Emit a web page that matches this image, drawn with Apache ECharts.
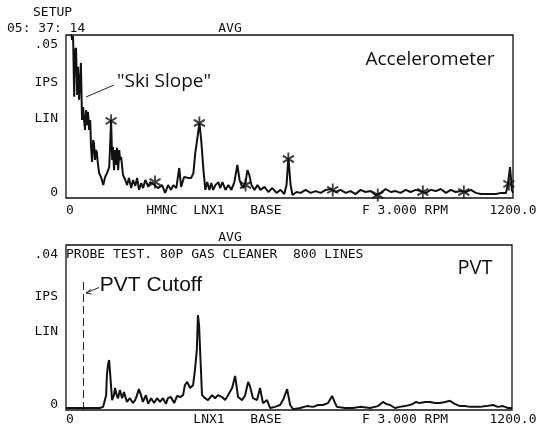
<!DOCTYPE html>
<html>
<head>
<meta charset="utf-8">
<script src="https://cdn.jsdelivr.net/npm/echarts@6/dist/echarts.min.js"></script>
<style>html,body{margin:0;padding:0;background:#fff;}#c{width:539px;height:427px;}</style>
</head>
<body>
<div id="c"></div>
<script>
// Accelerometer spectrum: [frequency (RPM scale 0-1200), amplitude IPS]
var accelSpectrum = [[3,0.058],[11,0.058],[16,0.0517],[19,0.053],[22,0.0327],[24,0.0483],[27,0.049],[30,0.0333],[32,0.0427],[35,0.0317],[38,0.0323],[40,0.044],[43,0.025],[46,0.0293],[48,0.0257],[51,0.0217],[54,0.0283],[56,0.0233],[59,0.0277],[62,0.0217],[65,0.025],[67,0.0167],[70,0.011],[73,0.0183],[75,0.0173],[78,0.0117],[81,0.015],[83,0.014],[86,0.01],[89,0.0073],[94,0.006],[100,0.0033],[105,0.006],[110,0.0073],[116,0.0093],[118,0.015],[121,0.025],[124,0.0117],[126,0.016],[129,0.0083],[132,0.015],[135,0.01],[137,0.0157],[140,0.0083],[143,0.015],[145,0.0117],[148,0.0127],[153,0.0067],[159,0.005],[164,0.0033],[169,0.0057],[175,0.0023],[180,0.005],[186,0.003],[191,0.0057],[196,0.0017],[202,0.004],[207,0.0023],[213,0.005],[221,0.0027],[226,0.0043],[234,0.0037],[239,0.0043],[247,0.0023],[258,0.0033],[266,0.0007],[274,0.0033],[282,0.0017],[288,0.0033],[296,0.0023],[304,0.009],[309,0.0027],[317,0.006],[328,0.0057],[336,0.0057],[342,0.0073],[347,0.014],[352,0.0183],[358,0.024],[363,0.0183],[369,0.0083],[374,0.0017],[379,0.0043],[385,0.0017],[390,0.004],[395,0.0017],[401,0.0033],[409,0.0043],[414,0.0023],[420,0.0043],[428,0.0017],[436,0.0033],[444,0.0017],[452,0.0043],[460,0.01],[466,0.005],[471,0.0033],[476,0.0023],[482,0.0043],[487,0.0083],[492,0.0067],[498,0.0033],[506,0.0017],[514,0.0033],[522,0.0017],[533,0.0027],[543,0.001],[554,0.0023],[565,0.0007],[576,0.0017],[586,0.0003],[592,0.0033],[597,0.0123],[603,0.0033],[608,0],[619,0.001],[630,0.0007],[643,0.0017],[657,0.0007],[670,0.0013],[684,0.0007],[697,0.0017],[710,0.002],[724,0.001],[737,0.0017],[751,0.0007],[764,0.0013],[777,0.0003],[791,0.0017],[804,0.001],[818,0.0013],[831,0],[845,0.0007],[858,0.002],[872,0.001],[885,0.0013],[898,0.0007],[912,0.0017],[925,0.001],[939,0.0017],[952,0.0013],[966,0.0007],[979,0.0017],[993,0.0013],[1006,0.002],[1020,0.0007],[1033,0.0017],[1046,0.001],[1060,0.0013],[1073,0.001],[1087,0.0017],[1100,0.0007],[1114,0.0003],[1127,0.0003],[1141,0.0003],[1154,0.0003],[1168,0.0007],[1181,0.0007],[1186,0.0033],[1192,0.0093],[1195,0.005],[1197,0.0017],[1200,0.0007]];

// Asterisk peak markers on accelerometer spectrum
var accelMarkers = [[121,0.0247],[239,0.0043],[358,0.024],[482,0.0033],[597,0.012],[716,0.0017],[837,0],[958,0.001],[1068,0.001],[1189,0.0037]];

// PVT (proximity probe) spectrum
var pvtSpectrum = [[0,0],[38,0],[91,0],[100,0.0003],[102,0],[108,0.0034],[110,0.0087],[113,0.0114],[116,0.0127],[118,0.0122],[121,0.0061],[124,0.0021],[129,0.0034],[132,0.0053],[137,0.0032],[140,0.0026],[145,0.0048],[151,0.0026],[156,0.0042],[164,0.0016],[172,0.0026],[180,0.0013],[186,0.0021],[191,0.0034],[196,0.005],[202,0.0034],[207,0.0016],[215,0.0034],[221,0.0011],[229,0.0026],[237,0.0013],[245,0.0026],[253,0.0016],[261,0.0026],[269,0.0011],[274,0.0026],[282,0.0029],[291,0.0013],[299,0.0032],[307,0.0029],[315,0.0034],[320,0.0061],[326,0.0069],[334,0.0053],[342,0.0061],[347,0.0101],[352,0.0154],[355,0.0246],[358,0.022],[360,0.0172],[366,0.0034],[374,0.0026],[382,0.0021],[393,0.0034],[401,0.0026],[409,0.0034],[420,0.0029],[428,0.0021],[436,0.0034],[447,0.0053],[455,0.0085],[463,0.0029],[474,0.0021],[482,0.0034],[490,0.0069],[495,0.0058],[498,0.0061],[503,0.0026],[514,0.0021],[522,0.0053],[530,0.0013],[541,0.0021],[549,0],[562,0.0003],[576,0.0008],[584,0.0021],[595,0.005],[603,0.0008],[611,-0.0003],[630,0],[648,0.0005],[665,0.0003],[678,0.0008],[691,0.0008],[705,0.0013],[716,0.0032],[724,0.0013],[729,0.0003],[751,0],[772,0],[791,0.0003],[818,0],[839,0.0005],[853,0.0016],[861,0.0011],[872,0.0008],[885,0],[898,0.0003],[912,0.0005],[925,0.0008],[933,0.0011],[942,0.0016],[952,0.0013],[966,0.0016],[979,0.0016],[993,0.0013],[1006,0.0013],[1020,0.0016],[1033,0.0019],[1046,0.0011],[1060,0.0005],[1073,0.0005],[1087,0.0003],[1100,0.0003],[1114,0.0003],[1130,0.0005],[1149,0.0008],[1162,0.0003],[1176,0.0005],[1189,0],[1200,0]];

var pvtCutoff = 46;           // frequency of PVT cutoff line
var pvtCutoffTop = 0.0334;    // top of dashed cutoff line (IPS)

var topYLabels = ['.05', 'IPS', 'LIN', '0'];
var botYLabels = ['.04', 'IPS', 'LIN', '0'];
var topXLabels = ['0', 'HMNC', 'LNX1', 'BASE', 'F 3.000 RPM', '1200.0'];
var botXLabels = ['0', 'LNX1', 'BASE', 'F 3.000 RPM', '1200.0'];
var headerTop = ['SETUP', '05: 37: 14', 'AVG'];
var headerBot = ['AVG', 'PROBE TEST. 80P GAS CLEANER  800 LINES'];
var titles = ['Accelerometer', '"Ski Slope"', 'PVT', 'PVT Cutoff'];

var chart = echarts.init(document.getElementById('c'));
var MONO = '13px "DejaVu Sans Mono", monospace';
var INK = '#111';
function txt(t, x, y, align, font) {
  return {type: 'text', x: x, y: y, silent: true,
    style: {text: t, font: font || MONO, fill: INK, align: align || 'left', verticalAlign: 'middle'}};
}
var topYPos = [45, 83, 119, 193];
var botYPos = [255, 297, 332, 405];
var topXPos = [70, 162, 209, 266, 405, 513];
var botXPos = [70, 209, 266, 405, 513];
var g = [];
topYLabels.forEach(function (t, i) { g.push(txt(t, 58, topYPos[i], 'right')); });
botYLabels.forEach(function (t, i) { g.push(txt(t, 58, botYPos[i], 'right')); });
topXLabels.forEach(function (t, i) { g.push(txt(t, topXPos[i], 211, 'center')); });
botXLabels.forEach(function (t, i) { g.push(txt(t, botXPos[i], 420, 'center')); });
g.push(txt(headerTop[0], 33, 13));
g.push(txt(headerTop[1], 7, 29));
g.push(txt(headerTop[2], 230, 29, 'center'));
g.push(txt(headerBot[0], 230, 238, 'center'));
g.push(txt(headerBot[1], 66, 255));
g.push(txt(titles[0], 430, 60, 'center', '19px "Open Sans", sans-serif'));
g.push(txt(titles[1], 164, 82, 'center', '19px "Open Sans", sans-serif'));
g.push(txt(titles[2], 475, 268, 'center', '20px "Open Sans", sans-serif'));
g.push(txt(titles[3], 151, 285, 'center', '21px "Liberation Sans", Arial, sans-serif'));
g.push({type: 'line', silent: true, shape: {x1: 86, y1: 97, x2: 114, y2: 85}, style: {stroke: INK, lineWidth: 0.9}});
g.push({type: 'line', silent: true, shape: {x1: 99, y1: 287.5, x2: 86, y2: 293}, style: {stroke: INK, lineWidth: 0.9}});
g.push({type: 'polyline', silent: true, shape: {points: [[91, 289.5], [86, 293], [91.5, 294]]}, style: {stroke: INK, lineWidth: 0.9, fill: null}});

var star = 'path://M5,0L5,12M0,3L10,9M0,9L10,3';

chart.setOption({
  animation: false,
  backgroundColor: '#fff',
  graphic: g,
  grid: [
    {left: 66, top: 35, width: 447, height: 163, show: true, borderColor: INK, borderWidth: 1.3, backgroundColor: 'transparent'},
    {left: 66, top: 245, width: 446, height: 165, show: true, borderColor: INK, borderWidth: 1.3, backgroundColor: 'transparent'}
  ],
  xAxis: [
    {gridIndex: 0, type: 'value', min: 0, max: 1200, show: false},
    {gridIndex: 1, type: 'value', min: 0, max: 1200, show: false}
  ],
  yAxis: [
    {gridIndex: 0, type: 'value', min: -0.001, max: 0.0533, show: false},
    {gridIndex: 1, type: 'value', min: -0.00053, max: 0.0432, show: false}
  ],
  series: [
    {type: 'line', xAxisIndex: 0, yAxisIndex: 0, data: accelSpectrum, showSymbol: false, clip: true,
      lineStyle: {color: INK, width: 2}},
    {type: 'scatter', xAxisIndex: 0, yAxisIndex: 0, data: accelMarkers, symbol: star, symbolSize: [11, 13],
      itemStyle: {color: 'transparent', borderColor: INK, borderWidth: 2}},
    {type: 'line', xAxisIndex: 1, yAxisIndex: 1, data: pvtSpectrum, showSymbol: false, clip: true,
      lineStyle: {color: INK, width: 2},
      markLine: {silent: true, symbol: 'none', label: {show: false},
        lineStyle: {color: INK, type: [8, 4], width: 0.9},
        data: [[{coord: [pvtCutoff, -0.00053]}, {coord: [pvtCutoff, pvtCutoffTop]}]]}}
  ]
});
</script>
</body>
</html>
